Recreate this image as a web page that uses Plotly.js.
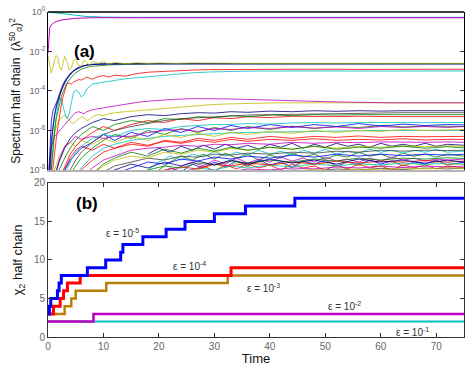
<!DOCTYPE html>
<html>
<head>
<meta charset="utf-8">
<script src="https://cdn.plot.ly/plotly-3.0.1.min.js"></script>
<style>
  html, body { margin: 0; padding: 0; background: #fff; }
  #chart { width: 474px; height: 366px; }
</style>
</head>
<body>
<div id="chart"></div>
<script>
// ---- panel (a): spectrum of the half chain, values as log10 exponents ----
const tFine = [0, 0.3, 0.6, 0.9, 1.2, 1.5, 1.8, 2.1, 2.4, 2.7,
    3, 3.4, 3.8, 4.2, 4.6, 5, 5.5, 6, 6.5, 7,
    7.5, 8, 9, 10, 11, 12, 14, 16, 18, 20,
    23, 26, 29, 32, 35, 38, 41, 44, 47, 50,
    53, 56, 59, 62, 65, 68, 71, 75]

const lamFirst = [0, -0.01, -0.02, -0.04, -0.05, -0.07, -0.08, -0.1, -0.11, -0.12,
    -0.13, -0.14, -0.15, -0.17, -0.18, -0.19, -0.2, -0.21, -0.22, -0.23,
    -0.23, -0.24, -0.25, -0.26, -0.26, -0.27, -0.27, -0.27, -0.27, -0.27,
    -0.27, -0.27, -0.27, -0.27, -0.27, -0.27, -0.27, -0.27, -0.27, -0.27,
    -0.27, -0.27, -0.27, -0.27, -0.27, -0.27, -0.27, -0.27]
const lamSecond = [-2.1, -0.8, -0.65, -0.57, -0.52, -0.48, -0.45, -0.43, -0.41, -0.39,
    -0.38, -0.36, -0.35, -0.34, -0.33, -0.32, -0.31, -0.31, -0.3, -0.3,
    -0.3, -0.29, -0.29, -0.29, -0.29, -0.29, -0.29, -0.29, -0.29, -0.29,
    -0.29, -0.29, -0.29, -0.29, -0.29, -0.29, -0.29, -0.29, -0.29, -0.29,
    -0.29, -0.29, -0.29, -0.29, -0.29, -0.29, -0.29, -0.29]
const lamYellow = [-2.2, -2.7, -3.1, -2.8, -2.4, -2.2, -2.35, -2.8, -2.95, -2.6,
    -2.25, -2.5, -2.95, -2.85, -2.45, -2.4, -2.7, -2.75, -2.45, -2.55,
    -2.7, -2.5, -2.6, -2.52, -2.64, -2.55, -2.62, -2.57, -2.6, -2.58,
    -2.6, -2.58, -2.6, -2.59, -2.6, -2.6, -2.59, -2.6, -2.6, -2.6,
    -2.6, -2.6, -2.6, -2.6, -2.6, -2.6, -2.6, -2.6]
const lamNavy = [-9, -8, -6.5, -5.7, -5.2, -4.8, -4.5, -4.25, -4.0, -3.8,
    -3.6, -3.4, -3.25, -3.12, -3.0, -2.92, -2.84, -2.77, -2.72, -2.69,
    -2.67, -2.65, -2.64, -2.63, -2.62, -2.62, -2.62, -2.62, -2.62, -2.62,
    -2.62, -2.62, -2.62, -2.62, -2.62, -2.62, -2.62, -2.62, -2.62, -2.62,
    -2.62, -2.62, -2.62, -2.62, -2.62, -2.62, -2.62, -2.62]
const lamBlack = [-9, -8.6, -7.0, -5.8, -5.2, -4.75, -4.4, -4.1, -3.85, -3.65,
    -3.5, -3.32, -3.18, -3.05, -2.95, -2.88, -2.8, -2.75, -2.71, -2.68,
    -2.66, -2.65, -2.64, -2.63, -2.62, -2.62, -2.62, -2.62, -2.62, -2.62,
    -2.62, -2.62, -2.62, -2.62, -2.62, -2.62, -2.62, -2.62, -2.62, -2.62,
    -2.62, -2.62, -2.62, -2.62, -2.62, -2.62, -2.62, -2.62]
const lamBlue = [-9, -7.5, -5.5, -5.0, -4.8, -4.65, -4.45, -4.2, -3.95, -3.72,
    -3.55, -3.36, -3.2, -3.08, -2.98, -2.9, -2.82, -2.76, -2.72, -2.69,
    -2.67, -2.65, -2.64, -2.63, -2.62, -2.62, -2.62, -2.62, -2.62, -2.62,
    -2.62, -2.62, -2.62, -2.62, -2.62, -2.62, -2.62, -2.62, -2.62, -2.62,
    -2.62, -2.62, -2.62, -2.62, -2.62, -2.62, -2.62, -2.62]
const lamGreen = [-9, -9, -8.0, -6.8, -6.0, -5.4, -5.0, -4.6, -4.3, -4.05,
    -3.85, -3.62, -3.45, -3.3, -3.18, -3.08, -2.98, -2.9, -2.85, -2.8,
    -2.77, -2.75, -2.72, -2.7, -2.68, -2.67, -2.65, -2.64, -2.63, -2.62,
    -2.62, -2.62, -2.62, -2.62, -2.62, -2.62, -2.62, -2.62, -2.62, -2.62,
    -2.62, -2.62, -2.62, -2.62, -2.62, -2.62, -2.62, -2.62]
const lamRed = [-9, -9, -8.6, -7.8, -7.0, -6.4, -5.8, -5.2, -4.7, -4.3,
    -4.0, -3.65, -3.6, -3.65, -3.55, -3.5, -3.42, -3.45, -3.38, -3.3,
    -3.36, -3.4, -3.28, -3.22, -3.3, -3.2, -3.25, -3.12, -3.05, -3.02,
    -2.97, -2.94, -2.92, -2.91, -2.9, -2.9, -2.91, -2.9, -2.9, -2.89,
    -2.9, -2.91, -2.9, -2.9, -2.9, -2.9, -2.9, -2.9]
const lamCyan = [-9, -9, -8.0, -6.8, -5.9, -5.2, -4.7, -4.35, -4.4, -4.75,
    -5.1, -5.4, -5.2, -4.6, -4.1, -3.95, -4.05, -4.3, -4.2, -3.9,
    -3.75, -3.65, -3.6, -3.55, -3.5, -3.47, -3.38, -3.33, -3.28, -3.22,
    -3.15, -3.08, -3.04, -3.01, -3.0, -2.99, -2.99, -2.99, -2.99, -2.99,
    -2.99, -2.99, -2.99, -2.99, -2.99, -2.99, -2.99, -2.99]
const lamMagentaMid = [-9, -7.5, -6.8, -6.5, -6.3, -6.2, -6.1, -6.0, -5.9, -5.8,
    -5.75, -5.6, -5.45, -5.3, -5.2, -5.1, -5.05, -5.1, -5.15, -5.05,
    -4.98, -4.95, -4.9, -4.85, -4.8, -4.75, -4.65, -4.58, -4.52, -4.47,
    -4.42, -4.39, -4.38, -4.4, -4.42, -4.45, -4.48, -4.5, -4.52, -4.54,
    -4.56, -4.58, -4.6, -4.6, -4.6, -4.6, -4.6, -4.6]
const lamYellowMid = [-9, -7.8, -7.0, -6.5, -6.1, -5.8, -5.6, -5.45, -5.35, -5.3,
    -5.25, -5.3, -5.45, -5.6, -5.65, -5.55, -5.4, -5.3, -5.35, -5.5,
    -5.45, -5.3, -5.2, -5.25, -5.15, -5.1, -5.05, -5.0, -4.95, -4.9,
    -4.82, -4.76, -4.7, -4.66, -4.63, -4.61, -4.6, -4.6, -4.6, -4.6,
    -4.6, -4.6, -4.6, -4.6, -4.6, -4.6, -4.6, -4.6]

// the many small eigenvalues, read on a coarser time grid
const tCoarse = [0, 1, 2, 3, 4, 5, 6, 8, 10, 12,
    15, 18, 21, 24, 27, 30, 33, 36, 40, 44,
    48, 52, 56, 60, 64, 68, 72, 75]

const bg01 = [-9, -8.5, -7.6, -6.9, -6.4, -6.1, -5.9, -5.6, -5.4, -5.5, -5.3, -5.2, -5.25, -5.15, -5.1, -5.12, -5.05, -5.08, -5.02, -5.05, -5.0, -5.03, -5.0, -5.02, -5.0, -5.0, -5.0, -5.0]
const bg02 = [-9, -8.8, -8.0, -7.4, -6.9, -6.5, -6.2, -5.8, -6.0, -5.7, -5.5, -5.6, -5.4, -5.45, -5.3, -5.35, -5.25, -5.3, -5.22, -5.25, -5.2, -5.22, -5.2, -5.2, -5.2, -5.2, -5.2, -5.2]
const bg03 = [-9, -9, -8.5, -7.8, -7.2, -6.8, -6.5, -6.1, -5.8, -6.0, -5.7, -5.5, -5.6, -5.4, -5.5, -5.35, -5.4, -5.3, -5.35, -5.28, -5.3, -5.3, -5.28, -5.3, -5.3, -5.3, -5.3, -5.3]
const bg04 = [-9, -9, -8.8, -8.2, -7.6, -7.1, -6.8, -6.4, -6.2, -6.3, -6.0, -5.9, -5.95, -5.8, -5.75, -5.7, -5.7, -5.65, -5.68, -5.62, -5.6, -5.62, -5.6, -5.6, -5.58, -5.6, -5.6, -5.6]
const bg05 = [-9, -8.6, -7.5, -6.8, -6.6, -6.3, -6.45, -6.3, -6.4, -6.3, -6.3, -6.1, -6.0, -5.95, -6.05, -5.9, -5.95, -5.85, -5.9, -5.8, -5.88, -5.82, -5.9, -5.8, -5.85, -5.8, -5.85, -5.8]
const bg06 = [-9, -8.2, -7.3, -6.9, -6.6, -6.8, -6.5, -6.7, -6.4, -6.6, -6.3, -6.5, -6.2, -6.35, -6.15, -6.3, -6.1, -6.2, -6.05, -6.15, -6.0, -6.1, -6.0, -6.05, -5.95, -6.0, -5.95, -5.95]
const bg07 = [-9, -9, -9, -8.6, -8.0, -7.5, -7.1, -6.6, -6.2, -6.0, -5.8, -5.65, -5.5, -5.4, -5.35, -5.3, -5.25, -5.22, -5.2, -5.18, -5.15, -5.15, -5.13, -5.12, -5.1, -5.1, -5.1, -5.1]
const bg08 = [-9, -9, -8.6, -8.0, -7.5, -7.2, -6.9, -6.6, -6.2, -6.5, -6.1, -6.3, -5.9, -6.1, -5.8, -6.0, -5.75, -5.9, -5.7, -5.85, -5.7, -5.8, -5.65, -5.78, -5.68, -5.75, -5.7, -5.72]
const bg09 = [-9, -9, -9, -8.7, -8.2, -7.8, -7.4, -6.9, -6.5, -6.2, -6.4, -6.0, -6.2, -5.9, -6.1, -5.85, -6.0, -5.8, -5.95, -5.78, -5.9, -5.8, -5.85, -5.75, -5.82, -5.78, -5.8, -5.8]
const bg10 = [-9, -9, -9, -9, -8.7, -8.3, -7.9, -7.3, -6.9, -6.7, -6.5, -6.4, -6.3, -6.25, -6.2, -6.15, -6.12, -6.1, -6.08, -6.05, -6.05, -6.03, -6.02, -6.0, -6.0, -6.0, -6.0, -6.0]
const bg11 = [-9, -9, -9, -9, -8.8, -8.4, -8.0, -7.5, -7.1, -6.9, -6.7, -6.8, -6.5, -6.6, -6.4, -6.5, -6.35, -6.45, -6.3, -6.4, -6.3, -6.35, -6.28, -6.35, -6.3, -6.32, -6.3, -6.3]
const bg12 = [-9, -9, -9, -9, -9, -8.8, -8.4, -7.9, -7.5, -7.3, -7.0, -6.9, -6.85, -6.75, -6.8, -6.7, -6.72, -6.65, -6.7, -6.6, -6.65, -6.6, -6.62, -6.58, -6.6, -6.6, -6.58, -6.6]
const bg13 = [-9, -9, -9, -9, -9, -9, -8.7, -8.2, -7.8, -7.5, -7.3, -7.4, -7.1, -7.2, -7.0, -7.1, -6.9, -7.0, -6.85, -6.95, -6.8, -6.9, -6.8, -6.85, -6.78, -6.82, -6.78, -6.8]
const bg14 = [-9, -9, -9, -9, -9, -9, -9, -8.6, -8.1, -7.8, -7.6, -7.4, -7.5, -7.3, -7.35, -7.2, -7.25, -7.15, -7.2, -7.1, -7.15, -7.05, -7.1, -7.0, -7.05, -7.0, -7.02, -7.0]
const bg15 = [-9, -9, -9, -9, -9, -9, -9, -9, -8.6, -8.2, -7.9, -7.6, -7.7, -7.45, -7.55, -7.35, -7.45, -7.3, -7.4, -7.25, -7.35, -7.2, -7.3, -7.2, -7.28, -7.2, -7.25, -7.2]
const bg16 = [-9, -9, -9, -9, -9, -9, -9, -9, -9, -8.7, -8.3, -8.0, -7.8, -7.9, -7.65, -7.75, -7.55, -7.65, -7.5, -7.6, -7.45, -7.55, -7.4, -7.5, -7.4, -7.45, -7.38, -7.42]
const bg17 = [-9, -9, -9, -9, -9, -9, -9, -9, -9, -9, -8.6, -8.3, -8.0, -7.85, -7.95, -7.7, -7.8, -7.65, -7.75, -7.6, -7.7, -7.55, -7.65, -7.55, -7.6, -7.52, -7.6, -7.55]
const bg18 = [-9, -9, -9, -9, -9, -9, -9, -9, -9, -9, -9, -8.6, -8.3, -8.1, -7.9, -8.0, -7.8, -7.9, -7.75, -7.85, -7.7, -7.8, -7.68, -7.75, -7.65, -7.72, -7.65, -7.7]
const bg19 = [-9, -9, -9, -9, -9, -9, -9, -9, -9, -9, -9, -9, -8.7, -8.4, -8.2, -8.05, -8.1, -7.95, -8.0, -7.9, -7.95, -7.85, -7.9, -7.8, -7.88, -7.8, -7.85, -7.8]
const bg20 = [-9, -9, -9, -9, -9, -9, -9, -9, -9, -9, -9, -9, -9, -8.8, -8.5, -8.3, -8.15, -8.2, -8.05, -8.1, -7.95, -8.05, -7.95, -8.0, -7.9, -7.95, -7.88, -7.92]
const bg21 = [-9, -9, -9, -9, -9, -9, -9, -9, -9, -9, -9, -9, -9, -9, -9, -8.7, -8.4, -8.2, -8.1, -8.0, -8.05, -7.95, -8.0, -7.92, -7.98, -7.9, -7.95, -7.9]
const bg22 = [-9, -9, -9, -9, -9, -9, -9, -8.8, -8.3, -8.0, -7.7, -7.9, -7.6, -7.8, -7.55, -7.75, -7.5, -7.7, -7.45, -7.65, -7.5, -7.7, -7.45, -7.6, -7.5, -7.65, -7.5, -7.6]
const bg23 = [-9, -9, -9, -9, -9, -9, -8.8, -8.2, -7.7, -7.4, -7.1, -7.3, -6.95, -7.15, -6.9, -7.05, -6.85, -7.0, -6.85, -6.95, -6.8, -6.95, -6.85, -6.9, -6.8, -6.9, -6.82, -6.88]
const bg24 = [-9, -9, -8.8, -8.0, -7.4, -7.0, -6.8, -7.0, -6.7, -6.9, -6.6, -6.75, -6.55, -6.65, -6.5, -6.6, -6.45, -6.55, -6.45, -6.5, -6.42, -6.5, -6.45, -6.48, -6.42, -6.48, -6.45, -6.45]

// the noisy floor of the spectrum at late times
const tNoise = [18, 20, 22, 24, 26, 28, 30, 32, 34, 36,
    38, 40, 42, 44, 46, 48, 50, 52, 54, 56,
    58, 60, 62, 64, 66, 68, 70, 72, 75]
const nz1 = [-9, -8.4, -7.9, -8.1, -7.7, -7.9, -7.6, -7.85, -7.55, -7.8, -7.5, -7.75, -7.6, -7.85, -7.55, -7.7, -7.5, -7.8, -7.6, -7.75, -7.5, -7.7, -7.55, -7.8, -7.6, -7.7, -7.5, -7.75, -7.6]
const nz2 = [-9, -9, -8.6, -8.2, -8.0, -7.8, -8.05, -7.75, -7.95, -7.7, -7.9, -7.75, -8.0, -7.7, -7.9, -7.8, -8.0, -7.75, -7.95, -7.7, -7.9, -7.8, -8.0, -7.75, -7.9, -7.75, -7.95, -7.8, -7.9]
const nz3 = [-8.6, -8.0, -7.6, -7.3, -7.5, -7.2, -7.45, -7.15, -7.4, -7.2, -7.5, -7.25, -7.4, -7.15, -7.35, -7.2, -7.45, -7.25, -7.35, -7.1, -7.3, -7.2, -7.4, -7.15, -7.3, -7.2, -7.35, -7.2, -7.3]
const nz4 = [-9, -8.7, -8.2, -7.8, -7.6, -7.8, -7.5, -7.7, -7.4, -7.65, -7.45, -7.6, -7.35, -7.55, -7.4, -7.6, -7.35, -7.55, -7.45, -7.6, -7.4, -7.55, -7.35, -7.5, -7.4, -7.55, -7.45, -7.5, -7.45]
const nz5 = [-8.0, -7.6, -7.3, -7.5, -7.2, -7.35, -7.05, -7.3, -7.1, -7.25, -7.0, -7.2, -7.05, -7.25, -7.0, -7.15, -6.95, -7.2, -7.05, -7.15, -6.95, -7.1, -7.0, -7.15, -7.0, -7.1, -6.95, -7.1, -7.05]
const nz6 = [-7.2, -6.9, -7.1, -6.8, -7.0, -6.75, -6.95, -6.7, -6.9, -6.75, -6.95, -6.7, -6.85, -6.65, -6.9, -6.7, -6.85, -6.65, -6.8, -6.7, -6.85, -6.65, -6.8, -6.7, -6.8, -6.65, -6.8, -6.7, -6.75]
const nz7 = [-9, -9, -8.8, -8.4, -8.1, -7.9, -7.7, -7.9, -7.65, -7.85, -7.6, -7.8, -7.65, -7.9, -7.6, -7.75, -7.65, -7.85, -7.6, -7.8, -7.7, -7.85, -7.6, -7.75, -7.65, -7.8, -7.6, -7.75, -7.7]

// ---- panel (b): chi_2 of the half chain, step changes ----
const epsLabels = ['10<sup>-5</sup>', '10<sup>-4</sup>', '10<sup>-3</sup>', '10<sup>-2</sup>', '10<sup>-1</sup>']
const chiT5 = [0, 0.25, 0.5, 1.7, 2.0, 2.4, 7.1, 10.4, 13.1, 13.5, 17.1, 21.3, 24.7, 30.0, 35.6, 44.5, 75]
const chiV5 = [3, 4, 5, 6, 7, 8, 9, 10, 11, 12, 13, 14, 15, 16, 17, 18, 18]
const chiT4 = [0, 1.0, 2.2, 2.8, 3.5, 5.8, 33.0, 75]
const chiV4 = [3, 4, 5, 6, 7, 8, 9, 9]
const chiT3 = [0, 3.0, 4.2, 5.0, 10.5, 32.4, 75]
const chiV3 = [3, 4, 5, 6, 7, 8, 8]
const chiT2 = [0, 8.2, 75]
const chiV2 = [2, 3, 3]
const chiT1 = [0, 75]
const chiV1 = [2, 2]

const FONT = 'Liberation Sans, Arial, sans-serif'
const mBlue = '#0000ff', mGreen = '#008000', mRed = '#ff0000', mCyan = '#00bfbf'
const mMag = '#bf00bf', mYel = '#bfbf00', mBlack = '#404040', mNavy = '#00007f'

function pow10(arr) {
    return arr.map(e => Math.pow(10, e))
}

function specTrace(t, e, color, width) {
    return {
        x: t, y: pow10(e), xaxis: 'x', yaxis: 'y',
        mode: 'lines', line: { color: color, width: width || 0.8 },
        hoverinfo: 'skip'
    }
}

function chiTrace(t, v, color, width) {
    return {
        x: t, y: v, xaxis: 'x2', yaxis: 'y2',
        mode: 'lines', line: { color: color, width: width, shape: 'hv' },
        hoverinfo: 'skip'
    }
}

const bgLines = [bg21, bg20, bg19, bg18, bg17, bg16, bg22, bg15, bg14, bg13, bg23, bg12,
    bg24, bg11, bg10, bg09, bg08, bg06, bg05, bg04, bg03, bg02, bg07, bg01]
const bgColors = [mBlack, mYel, mMag, mCyan, mRed, mGreen, mNavy, mBlue, mBlack, mYel, mGreen, mMag,
    mRed, mRed, mCyan, mGreen, mBlue, mYel, mMag, mCyan, mRed, mGreen, mBlack, mNavy]
const noiseLines = [nz1, nz2, nz3, nz4, nz5, nz6, nz7]
const noiseColors = [mBlue, mRed, mGreen, mMag, mCyan, mNavy, mYel]

const data = []
noiseLines.forEach((e, i) => data.push(specTrace(tNoise, e, noiseColors[i])))
bgLines.forEach((e, i) => data.push(specTrace(tCoarse, e, bgColors[i])))
data.push(specTrace(tFine, lamYellowMid, mYel))
data.push(specTrace(tFine, lamMagentaMid, mMag))
data.push(specTrace(tFine, lamCyan, mCyan))
data.push(specTrace(tFine, lamRed, mRed))
data.push(specTrace(tFine, lamGreen, mGreen))
data.push(specTrace(tFine, lamBlack, mBlack))
data.push(specTrace(tFine, lamBlue, mBlue))
data.push(specTrace(tFine, lamNavy, mNavy))
data.push(specTrace(tFine, lamYellow, mYel))
data.push(specTrace(tFine, lamFirst, mCyan, 1))
data.push(specTrace(tFine, lamSecond, mMag, 1))

data.push(chiTrace(chiT1, chiV1, '#00bfbf', 2))
data.push(chiTrace(chiT2, chiV2, '#bf00bf', 2.5))
data.push(chiTrace(chiT3, chiV3, '#b8800a', 2.5))
data.push(chiTrace(chiT4, chiV4, '#ff0000', 3))
data.push(chiTrace(chiT5, chiV5, '#0000ff', 3))

const epsPos = [[13.4, 13.5], [25.5, 9.25], [38.8, 6.35], [53.5, 4.0], [65.7, 0.6]]
const annotations = epsPos.map((p, i) => ({
    x: p[0], y: p[1], xref: 'x2', yref: 'y2', showarrow: false,
    text: 'ε = ' + epsLabels[i],
    font: { family: FONT, size: 10, color: '#333' }
}))
annotations.push({
    x: 0.058, y: 0.915, xref: 'paper', yref: 'paper', showarrow: false,
    text: '<b>(a)</b>', font: { family: FONT, size: 17, color: '#000' }
})
annotations.push({
    x: 0.062, y: 0.412, xref: 'paper', yref: 'paper', showarrow: false,
    text: '<b>(b)</b>', font: { family: FONT, size: 17, color: '#000' }
})

const tickFont = { family: FONT, size: 10, color: '#666' }

const layout = {
    width: 474,
    height: 366,
    margin: { l: 48, r: 10, t: 12, b: 29, pad: 0 },
    paper_bgcolor: '#fff',
    plot_bgcolor: '#fff',
    showlegend: false,
    hovermode: false,
    font: { family: FONT },
    xaxis: {
        domain: [0, 1], range: [0, 75], anchor: 'y',
        showticklabels: false, ticks: '', showgrid: false, zeroline: false,
        showline: true, linecolor: '#b4b4b4', linewidth: 2
    },
    yaxis: {
        domain: [0.514, 1], type: 'log', range: [-8, 0], anchor: 'x',
        tickvals: [1, 1e-2, 1e-4, 1e-6, 1e-8],
        ticktext: ['10<sup>0</sup>', '10<sup>-2</sup>', '10<sup>-4</sup>', '10<sup>-6</sup>', '10<sup>-8</sup>'],
        ticks: 'inside', ticklen: 4, tickcolor: '#333',
        showline: true, mirror: 'ticks', linecolor: '#000', linewidth: 1,
        showgrid: false, zeroline: false,
        tickfont: { family: FONT, size: 9, color: '#666' },
        title: {
            text: 'Spectrum half chain  (λ<sup>50</sup><sub>α</sub>)<sup>2</sup>',
            font: { family: FONT, size: 12, color: '#111' }, standoff: 6
        }
    },
    xaxis2: {
        domain: [0, 1], range: [0, 75], anchor: 'y2',
        tickvals: [0, 10, 20, 30, 40, 50, 60, 70],
        ticks: 'inside', ticklen: 4, tickcolor: '#333',
        showline: true, mirror: 'ticks', linecolor: '#333', linewidth: 1,
        showgrid: false, zeroline: false, tickfont: tickFont,
        title: { text: 'Time', font: { family: FONT, size: 13, color: '#111' }, standoff: 4 }
    },
    yaxis2: {
        domain: [0, 0.474], range: [0, 20], anchor: 'x2',
        tickvals: [0, 5, 10, 15, 20],
        ticks: 'inside', ticklen: 4, tickcolor: '#333',
        showline: true, mirror: 'ticks', linecolor: '#333', linewidth: 1,
        showgrid: false, zeroline: false, tickfont: tickFont,
        title: {
            text: 'χ<sub>2</sub> half chain',
            font: { family: FONT, size: 13, color: '#111' }, standoff: 8
        }
    },
    shapes: [{
        type: 'line', xref: 'paper', yref: 'paper',
        x0: 0, x1: 1, y0: 1, y1: 1,
        line: { color: '#000', width: 1.5 }
    }],
    annotations: annotations
}

document.addEventListener('DOMContentLoaded', () => {
    Plotly.newPlot('chart', data, layout, { staticPlot: true, displayModeBar: false })
})
</script>
</body>
</html>
